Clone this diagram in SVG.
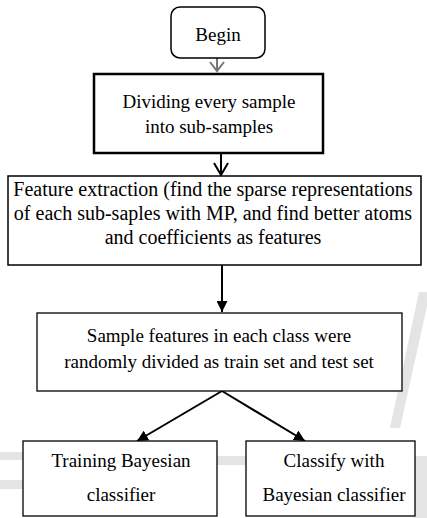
<svg xmlns="http://www.w3.org/2000/svg" width="427" height="518" viewBox="0 0 427 518">
<defs>
<style>
.box{fill:#fff;stroke:#000;stroke-width:1.5}
.t{font-size:19px;fill:#000;text-anchor:middle}
.c{stroke:#000;stroke-width:2;fill:none}
.wm{fill:#e4e4e4}
</style>
<marker id="tri" viewBox="0 0 10 10" refX="10" refY="5" markerWidth="11" markerHeight="11" markerUnits="userSpaceOnUse" orient="auto">
<path d="M0,0 L10,5 L0,10 Z" fill="#000"/>
</marker>
</defs>
<rect width="427" height="518" fill="#fff"/>
<g id="watermark">
<polygon class="wm" points="419,292 427,292 427,306 400,428 390,428"/>
<rect class="wm" x="0" y="452" width="23" height="8"/>
<rect class="wm" x="0" y="480" width="23" height="9"/>
<rect class="wm" x="217" y="456" width="29" height="9"/>
<rect class="wm" x="415" y="456" width="12" height="62"/>
</g>
<g id="connectors">
<line x1="217" y1="58" x2="217" y2="71" stroke="#777" stroke-width="2"/>
<polyline points="210,62 217,71 224,62" stroke="#777" stroke-width="2" fill="none"/>
<line class="c" x1="221" y1="153" x2="221" y2="175"/>
<polyline class="c" points="214,163 221,175 228,163"/>
<line class="c" x1="222" y1="265" x2="222" y2="312" marker-end="url(#tri)"/>
<line class="c" x1="222" y1="391" x2="137" y2="441" marker-end="url(#tri)"/>
<line class="c" x1="222" y1="391" x2="305" y2="441" marker-end="url(#tri)"/>
</g>
<g font-family="Liberation Serif, Times New Roman, DejaVu Serif, serif">
<g id="begin">
<rect class="box" x="171" y="7" width="94" height="51" rx="9"/>
<text class="t" x="218" y="41">Begin</text>
</g>
<g id="divide">
<rect class="box" x="94" y="74" width="229" height="79" style="stroke-width:2.5"/>
<text class="t" x="209" y="108">Dividing every sample</text>
<text class="t" x="209" y="133">into sub-samples</text>
</g>
<g id="feature">
<rect class="box" x="8" y="176" width="413" height="89"/>
<text class="t" x="213" y="196" style="font-size:20px">Feature extraction (find the sparse representations</text>
<text class="t" x="213" y="220" style="font-size:20px">of each sub-saples with MP, and find better atoms</text>
<text class="t" x="213" y="244" style="font-size:20px">and coefficients as features</text>
</g>
<g id="split">
<rect class="box" x="37" y="313" width="365" height="78" style="stroke-width:1.3"/>
<text class="t" x="219" y="342">Sample features in each class were</text>
<text class="t" x="219" y="368">randomly divided as train set and test set</text>
</g>
<g id="train">
<rect class="box" x="23" y="441" width="194" height="75" style="stroke-width:1.3"/>
<text class="t" x="121" y="467">Training Bayesian</text>
<text class="t" x="121" y="501">classifier</text>
</g>
<g id="classify">
<rect class="box" x="246" y="441" width="169" height="75" style="stroke-width:1.3"/>
<text class="t" x="334" y="467">Classify with</text>
<text class="t" x="334" y="501">Bayesian classifier</text>
</g>
</g>
</svg>
